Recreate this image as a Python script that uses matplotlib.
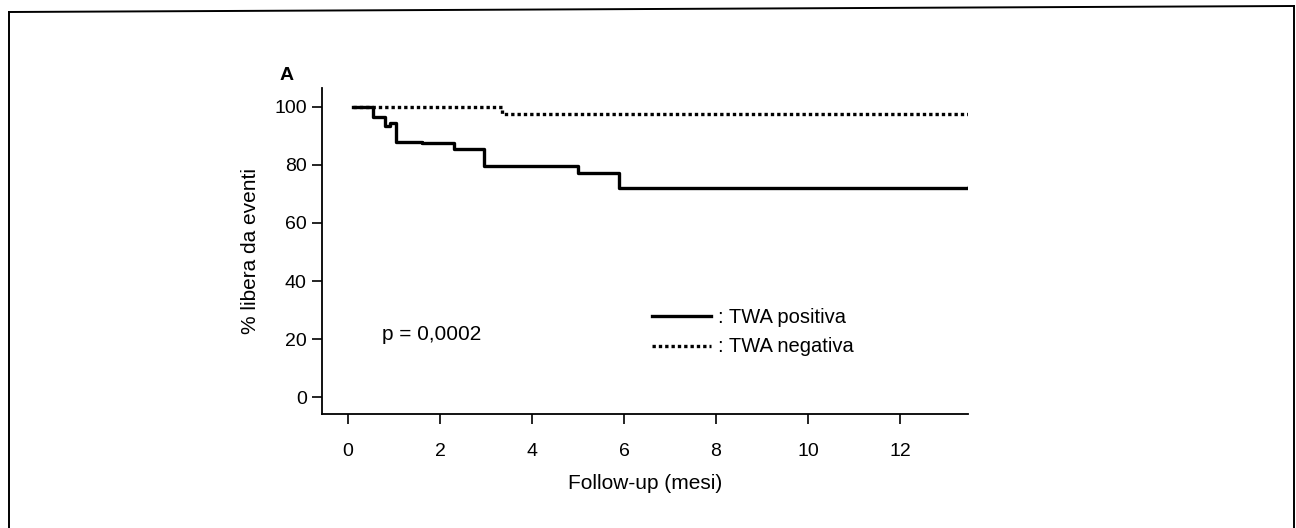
import matplotlib
matplotlib.use("Agg")
import matplotlib.pyplot as plt
from matplotlib.lines import Line2D

plt.rcParams['font.family'] = ['Liberation Sans', 'DejaVu Sans']

# Kaplan-Meier step data (months, % event free)
pos_t = [0.1, 0.55, 0.8, 0.92, 1.05, 1.62, 2.3, 2.95, 5.0, 5.9, 13.5]
pos_v = [100, 96.4, 93.6, 94.6, 88.0, 87.5, 85.4, 79.7, 77.1, 72.2, 72.5]
neg_t = [0.1, 3.35, 13.5]
neg_v = [100, 97.5, 97.8]

xticks = [0, 2, 4, 6, 8, 10, 12]
yticks = [0, 20, 40, 60, 80, 100]

fig = plt.figure(figsize=(12.96, 5.28), dpi=100)
ax = fig.add_axes([322/1296, 1-414/528, (968-322)/1296, (414-88)/528])

ax.step(pos_t, pos_v, where='post', color='black', lw=2.4)
ax.step(neg_t, neg_v, where='post', color='black', lw=2.4, linestyle=(0, (1, 0.9)))

ax.set_xlim(-0.565, 13.48)
ax.set_ylim(-5.86, 106.55)
ax.set_xticks(xticks)
ax.set_yticks(yticks)
ax.tick_params(axis='both', direction='out', length=7, width=1.2, labelsize=14)
ax.tick_params(axis='x', pad=14)
ax.tick_params(axis='y', pad=4)
for s in ['top', 'right']:
    ax.spines[s].set_visible(False)
for s in ['left', 'bottom']:
    ax.spines[s].set_linewidth(1.3)

ax.set_xlabel('Follow-up (mesi)', fontsize=15, labelpad=10)
ax.set_ylabel('% libera da eventi', fontsize=15, labelpad=10)

fig.text(287/1296, 1-75/528, 'A', fontsize=14, fontweight='bold', ha='center', va='center')

# p value
ax.text(0.75, 21.5, 'p = 0,0002', fontsize=15, ha='left', va='center')

# manual legend
ax.plot([6.6, 7.9], [27.9, 27.9], color='black', lw=2.4)
ax.plot([6.6, 7.9], [17.5, 17.5], color='black', lw=2.4, linestyle=(0, (1, 0.9)))
ax.text(8.05, 27.5, ': TWA positiva', fontsize=14.5, ha='left', va='center')
ax.text(8.05, 17.5, ': TWA negativa', fontsize=14.5, ha='left', va='center')

# outer frame (left, top, right)
fig.add_artist(Line2D([9/1296, 9/1296], [0, 1-12/528], color='black', lw=1.4, transform=fig.transFigure))
fig.add_artist(Line2D([9/1296, 1294/1296], [1-12/528, 1-6/528], color='black', lw=1.4, transform=fig.transFigure))
fig.add_artist(Line2D([1294/1296, 1294/1296], [1-6/528, 0], color='black', lw=1.4, transform=fig.transFigure))

fig.savefig('out.png', dpi=100)
